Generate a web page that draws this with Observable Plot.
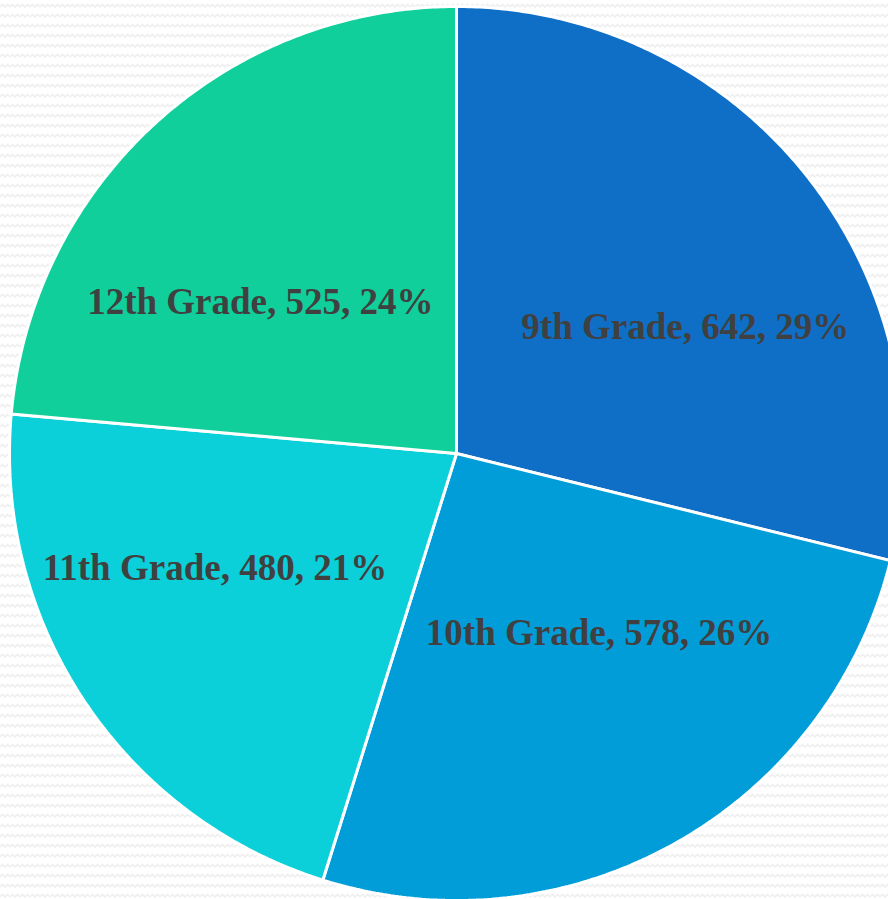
<!DOCTYPE html>
<html>
<head>
<meta charset="utf-8">
<script src="https://cdn.jsdelivr.net/npm/d3@7"></script>
<script src="https://cdn.jsdelivr.net/npm/@observablehq/plot@0.6"></script>
<style>
  html, body { margin: 0; padding: 0; overflow: hidden; }
  body {
    width: 888px; height: 899px;
    background-color: #ffffff;
    background-image: url("data:image/svg+xml;utf8,<svg xmlns='http://www.w3.org/2000/svg' width='10' height='10'><path d='M0 7 L2.5 4.5 L5 7 L7.5 4.5 L10 7' fill='none' stroke='%23efefef' stroke-width='1.6'/></svg>");
  }
  #chart svg { display: block; overflow: hidden; background: transparent; }
</style>
</head>
<body>
<div id="chart"></div>
<script>
// ---- data ----
const grades = ["9th Grade", "10th Grade", "11th Grade", "12th Grade"];
const counts = [642, 578, 480, 525];
const percentLabels = ["29%", "26%", "21%", "24%"];
const sliceColors = ["#0F6FC6", "#009DD9", "#0BD0D9", "#10CF9B"];

// ---- layout ----
const W = 888, H = 899;
const cx = 456, cy = 453, R = 447;

const pie = d3.pie().sort(null).value(d => d.count);
const rows = grades.map((g, i) => ({grade: g, count: counts[i], pct: percentLabels[i]}));
const arcs = pie(rows);

// polygon outline for each slice, in unit-circle coordinates (angle 0 = top, clockwise)
const slicePts = [];
for (const a of arcs) {
  const g = a.data.grade;
  slicePts.push({grade: g, x: 0, y: 0});
  const n = Math.max(2, Math.ceil((a.endAngle - a.startAngle) / (Math.PI / 360)));
  for (let k = 0; k <= n; k++) {
    const t = a.startAngle + (a.endAngle - a.startAngle) * k / n;
    slicePts.push({grade: g, x: Math.sin(t), y: Math.cos(t)});
  }
  slicePts.push({grade: g, x: 0, y: 0});
}

// labels placed on an ellipse at each slice's mid angle
const labels = arcs.map(a => {
  const m = (a.startAngle + a.endAngle) / 2;
  return {
    text: `${a.data.grade}, ${a.data.count}, ${a.data.pct}`,
    x: 0.65 * Math.sin(m),
    y: 0.46 * Math.cos(m)
  };
});

const chart = Plot.plot({
  width: W,
  height: H,
  margin: 0,
  style: {background: "transparent", overflow: "hidden"},
  x: {domain: [-1, 1], range: [cx - R, cx + R], axis: null},
  y: {domain: [-1, 1], range: [cy + R, cy - R], axis: null},
  color: {domain: grades, range: sliceColors},
  marks: [
    Plot.line(slicePts, {
      x: "x", y: "y", z: "grade",
      fill: "grade",
      stroke: "white",
      strokeWidth: 3,
      strokeLinejoin: "miter"
    }),
    Plot.text(labels, {
      x: "x", y: "y", text: "text",
      fill: "#404040",
      fontSize: 37,
      fontWeight: "bold",
      fontFamily: "'Liberation Serif', 'DejaVu Serif', serif"
    })
  ]
});
document.getElementById("chart").appendChild(chart);
</script>
</body>
</html>
